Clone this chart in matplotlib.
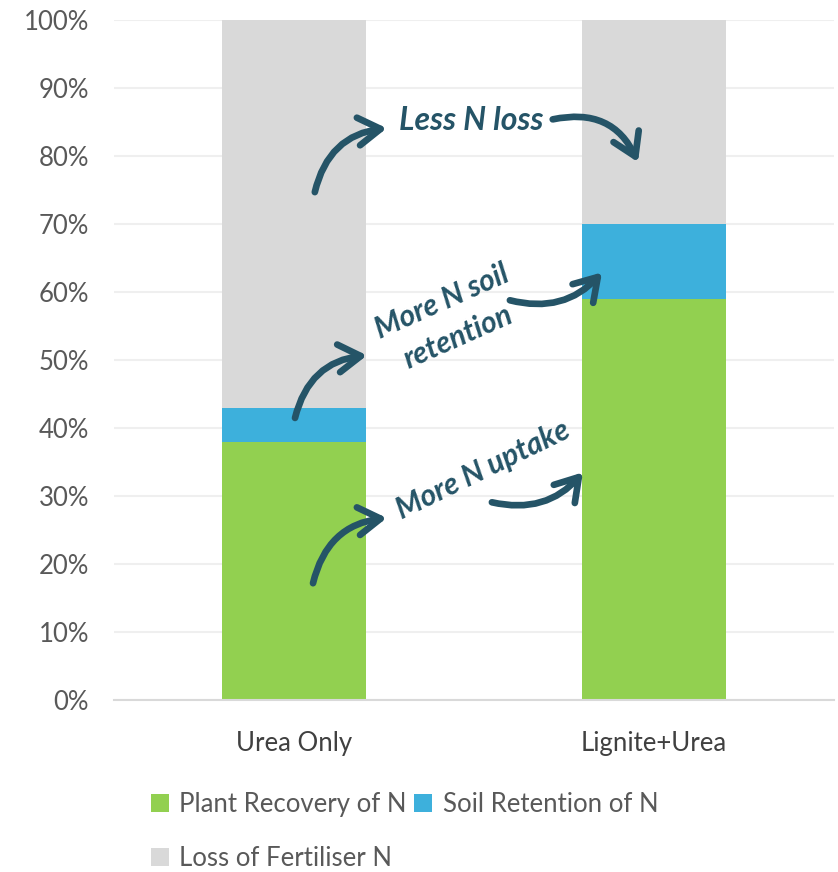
import matplotlib.pyplot as plt
import numpy as np

plt.rcParams['font.family'] = ['Lato', 'DejaVu Sans']

categories = ['Urea Only', 'Lignite+Urea']
plant_recovery = [38, 59]
soil_retention = [5, 11]
loss_n = [57, 30]
series_names = ['Plant Recovery of N', 'Soil Retention of N', 'Loss of Fertiliser N']
y_ticks = [0, 10, 20, 30, 40, 50, 60, 70, 80, 90, 100]

GREEN = '#92d050'
BLUE = '#3db0dc'
GREY = '#d9d9d9'
INK = '#255467'
TXT = '#595959'

fig = plt.figure(figsize=(8.38, 8.72), dpi=100)
ax = fig.add_axes([0.136, 0.197, 0.859, 0.78])

x = np.arange(len(categories))
w = 0.4
b1 = ax.bar(x, plant_recovery, w, color=GREEN, label=series_names[0], zorder=2)
b2 = ax.bar(x, soil_retention, w, bottom=plant_recovery, color=BLUE,
            label=series_names[1], zorder=2)
bottom2 = np.array(plant_recovery) + np.array(soil_retention)
b3 = ax.bar(x, loss_n, w, bottom=bottom2, color=GREY, label=series_names[2], zorder=2)

ax.set_xlim(-0.5, 1.5)
ax.set_ylim(0, 100)
ax.set_yticks(y_ticks)
ax.set_yticklabels(['{}%'.format(t) for t in y_ticks])
ax.set_xticks(x)
ax.set_xticklabels(categories)
ax.yaxis.grid(True, color='#efefef', lw=1.5, zorder=0)
ax.set_axisbelow(True)
for s in ['top', 'right', 'left']:
    ax.spines[s].set_visible(False)
ax.spines['bottom'].set_color('#d9d9d9')
ax.spines['bottom'].set_linewidth(1.5)
ax.tick_params(axis='y', length=0, pad=18, labelsize=18.5, labelcolor=TXT)
ax.tick_params(axis='x', length=0, pad=22, labelsize=18.5, labelcolor='#404040')

# handwritten-ish notes
note_kw = dict(color=INK, fontweight='bold', style='italic',
               ha='center', va='center', zorder=5)
ax.text(0.492, 85.2, 'Less N loss', fontsize=23, **note_kw)
ax.text(0.433, 56.0, 'More N soil\nretention', rotation=24, linespacing=1.5,
        multialignment='center', fontsize=21.5, **note_kw)
ax.text(0.525, 33.8, 'More N uptake', rotation=26, fontsize=21.5, **note_kw)

arrows = [
    ((0.058, 74.7), (0.258, 84.1), -0.35),
    ((0.719, 85.4), (0.956, 79.1), -0.4),
    ((0.003, 41.5), (0.203, 50.7), -0.35),
    ((0.600, 58.8), (0.856, 62.9), 0.3),
    ((0.053, 17.2), (0.258, 26.8), -0.35),
    ((0.550, 29.1), (0.803, 33.5), 0.3),
]
for start, tip, rad in arrows:
    ax.annotate('', xy=tip, xytext=start, zorder=6,
                arrowprops=dict(arrowstyle='->,head_length=0.8,head_width=0.5',
                                connectionstyle='arc3,rad={}'.format(rad),
                                color=INK, lw=4.8, mutation_scale=20,
                                capstyle='round', joinstyle='round',
                                shrinkA=0, shrinkB=0))

leg = fig.legend([b1, b3, b2], [series_names[0], series_names[2], series_names[1]],
                 ncol=2, loc='upper left', bbox_to_anchor=(0.18, 0.092),
                 frameon=False, fontsize=18.5, handlelength=0.7, handleheight=0.7,
                 handletextpad=0.4, columnspacing=0.3, labelspacing=1.15,
                 borderaxespad=0, borderpad=0)
for t in leg.get_texts():
    t.set_color(TXT)

fig.savefig('out.png', dpi=100)
